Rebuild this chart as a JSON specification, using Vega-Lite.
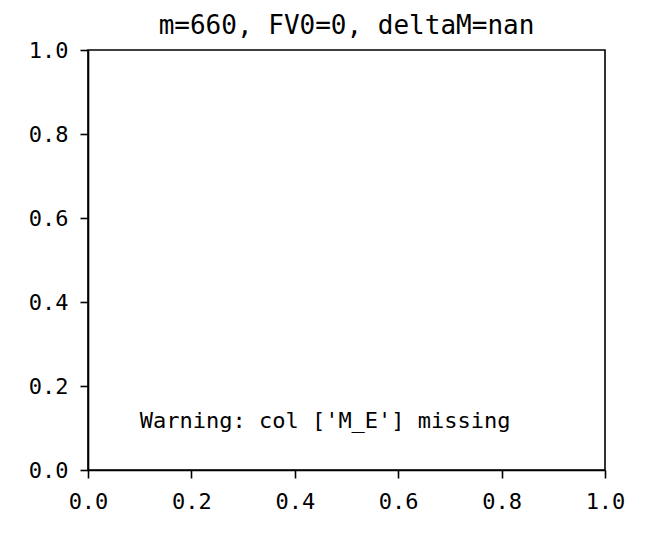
{
  "$schema": "https://vega.github.io/schema/vega-lite/v6.json",
  "width": 517,
  "height": 420,
  "autosize": "none",
  "padding": {"left": 88, "top": 50, "right": 41, "bottom": 83},
  "background": "white",
  "title": {
    "text": "m=660, FV0=0, deltaM=nan",
    "font": "DejaVu Sans Mono",
    "fontSize": 26,
    "fontWeight": "normal",
    "color": "black",
    "anchor": "middle",
    "frame": "group",
    "offset": 0
  },
  "data": {"values": [{"x": 0.1, "y": 0.1, "label": "Warning: col ['M_E'] missing"}]},
  "mark": {
    "type": "text",
    "align": "left",
    "baseline": "alphabetic",
    "font": "DejaVu Sans Mono",
    "fontSize": 22,
    "color": "black"
  },
  "encoding": {
    "x": {
      "field": "x",
      "type": "quantitative",
      "scale": {"domain": [0, 1], "nice": false, "zero": false},
      "axis": {"values": [0, 0.2, 0.4, 0.6, 0.8, 1.0], "format": ".1f", "title": null, "labelPadding": 13}
    },
    "y": {
      "field": "y",
      "type": "quantitative",
      "scale": {"domain": [0, 1], "nice": false, "zero": false},
      "axis": {"values": [0, 0.2, 0.4, 0.6, 0.8, 1.0], "format": ".1f", "title": null, "labelPadding": 12}
    },
    "text": {"field": "label"}
  },
  "config": {
    "view": {"stroke": "black", "strokeWidth": 1.6},
    "axis": {
      "grid": false,
      "domainColor": "black",
      "domainWidth": 1.6,
      "tickColor": "black",
      "tickWidth": 1.6,
      "tickSize": 8,
      "labelFont": "DejaVu Sans Mono",
      "labelFontSize": 22,
      "labelColor": "black",
      "labelFlush": false,
      "labelOverlap": false
    }
  }
}
